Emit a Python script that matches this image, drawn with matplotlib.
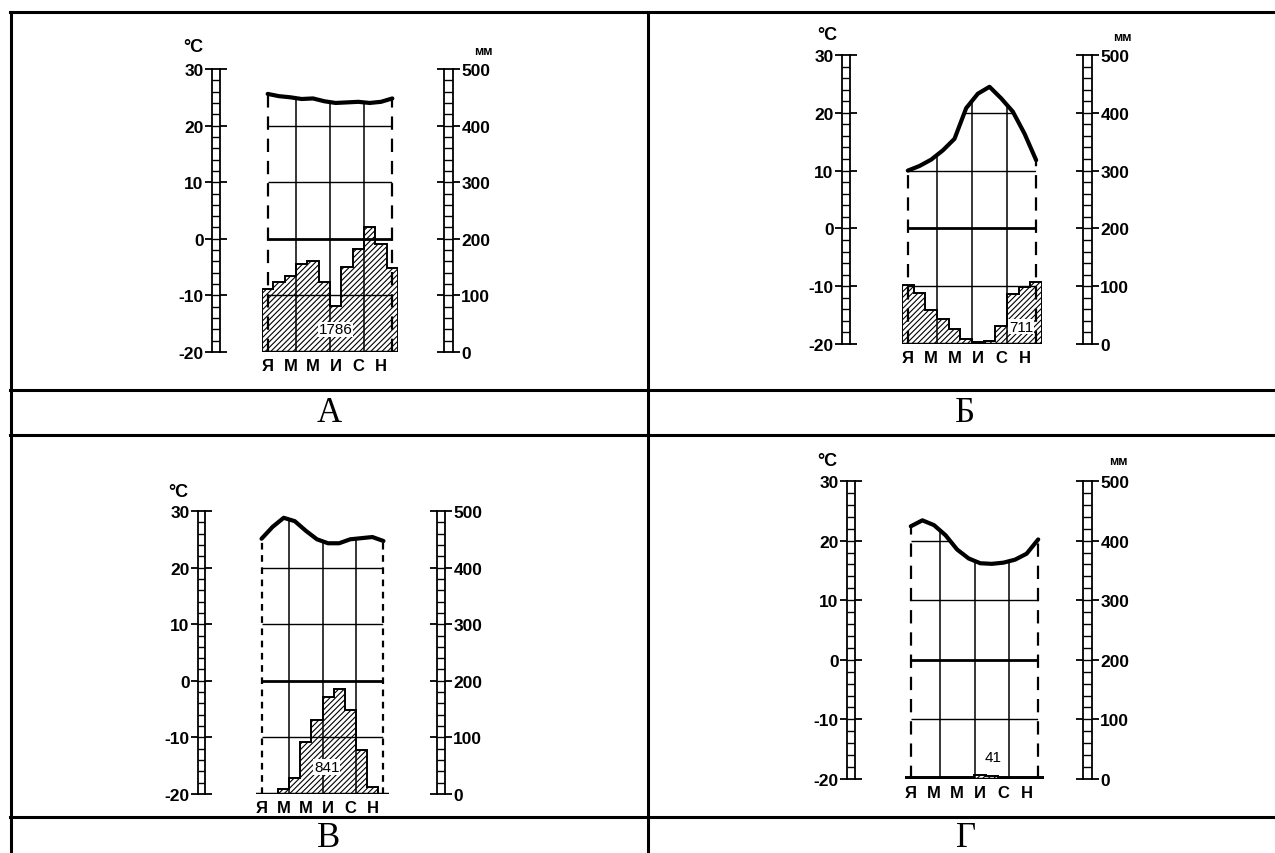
import numpy as np
import matplotlib
matplotlib.use('Agg')
import matplotlib.pyplot as plt
from matplotlib.lines import Line2D

plt.rcParams['font.family'] = ['Liberation Sans', 'DejaVu Sans']
plt.rcParams['hatch.linewidth'] = 0.8
plt.rcParams['axes.unicode_minus'] = False

# Данные
month_idx = np.arange(12)
month_labels = ['Я', 'М', 'М', 'И', 'С', 'Н']

temp_a = [25.6, 25.2, 25.0, 24.7, 24.8, 24.3, 24.0, 24.1, 24.2, 24.0, 24.2, 24.8]
prec_a = [112, 124, 135, 156, 160, 124, 82, 150, 182, 221, 191, 148]

temp_b = [10.0, 10.8, 11.9, 13.5, 15.5, 20.8, 23.3, 24.5, 22.5, 20.2, 16.4, 11.8]
prec_b = [102, 88, 58, 43, 26, 9, 4, 6, 32, 87, 98, 107]

temp_v = [25.1, 27.2, 28.8, 28.2, 26.5, 25.0, 24.3, 24.3, 25.0, 25.2, 25.4, 24.7]
prec_v = [0, 0, 9, 29, 92, 130, 171, 185, 149, 78, 12, 0]

temp_g = [22.4, 23.4, 22.6, 20.9, 18.5, 17.0, 16.2, 16.1, 16.3, 16.8, 17.8, 20.2]
prec_g = [3, 3, 3, 3, 3, 3, 6, 5, 3, 3, 3, 3]

totals = ['1786', '711', '841', '41']
panel_names = ['А', 'Б', 'В', 'Г']

temp_ticks = [-20, -10, 0, 10, 20, 30]
prec_ticks = [0, 100, 200, 300, 400, 500]

W, H = 1275, 854
fig = plt.figure(figsize=(W / 100, H / 100), dpi=100)


def px_axes(x0, y0, x1, y1):
    # оси по пиксельным координатам
    return fig.add_axes([x0 / W, 1 - y1 / H, (x1 - x0) / W, (y1 - y0) / H])


def ladder(x0, x1, y0, y1, lim, ticks, step, side):
    ax = px_axes(x0, y0, x1, y1)
    ax.set_xlim(0, 1)
    ax.set_ylim(*lim)
    for s in ax.spines.values():
        s.set_linewidth(1.3)
    ax.hlines(np.arange(lim[0] + step, lim[1], step), 0, 1, color='black', lw=1.0)
    ax.set_xticks([])
    ax.set_yticks(ticks)
    ax.tick_params(axis='y', left=True, right=True, direction='out', length=5,
                   width=1.3, labelsize=12.5, pad=1,
                   labelleft=(side == 'left'), labelright=(side == 'right'))
    for t in ax.get_yticklabels():
        t.set_fontweight('bold')
    return ax


def panel(temps, precs, total, lad_l, lad_r, y_top, y_bot, bars, total_pos,
          dash=(6, 4), c_pos=None, mm_pos=None):
    ladder(lad_l[0], lad_l[1], y_top, y_bot, (-20, 30), temp_ticks, 2, 'left')
    ladder(lad_r[0], lad_r[1], y_top, y_bot, (0, 500), prec_ticks, 20, 'right')

    ax = px_axes(bars[0], y_top, bars[1], y_bot)
    ax2 = ax.twinx()
    ax.set_zorder(2)
    ax2.set_zorder(1)
    ax.patch.set_visible(False)
    ax.set_xlim(-0.5, 11.5)
    ax.set_ylim(-20, 30)
    ax2.set_ylim(0, 500)
    ax2.axis('off')
    for s in ax.spines.values():
        s.set_visible(False)
    ax.set_yticks([])
    ax.set_xticks(month_idx[::2], month_labels)
    ax.tick_params(axis='x', length=0, pad=4, labelsize=12)
    for t in ax.get_xticklabels():
        t.set_fontweight('bold')

    # осадки
    ax2.stairs(precs, np.arange(13) - 0.5, baseline=0, fill=True,
               facecolor='white', edgecolor='black', hatch='//////', lw=1.4)
    ax.axhline(-20, color='black', lw=2.5)

    # температура
    ax.plot(month_idx, temps, color='black', lw=3.0, solid_joinstyle='round',
            solid_capstyle='round')
    area = ax.fill_between(month_idx, -20, temps, color='none', lw=0)
    clip = area.get_paths()[0]
    for lvl, lw in zip([-10, 0, 10, 20], [1.0, 2.0, 1.0, 1.0]):
        ln = ax.hlines(lvl, month_idx[0], month_idx[-1], color='black', lw=lw)
        ln.set_clip_path(clip, ax.transData)
    qx = [2.5, 5.5, 8.5]
    ax.vlines(qx, -20, np.interp(qx, month_idx, temps), color='black', lw=1.1)
    ax.vlines([month_idx[0], month_idx[-1]], -20, [temps[0], temps[-1]],
              color='black', lw=1.6, linestyles=[(0, dash)])

    ax.text(total_pos[0], total_pos[1], total, ha='center', va='center',
            fontsize=11, bbox=dict(fc='white', ec='none', pad=0.5))

    if c_pos is not None:
        fig.text(c_pos[0] / W, 1 - c_pos[1] / H, '°C', ha='center', va='center',
                 fontsize=13, fontweight='bold')
    if mm_pos is not None:
        fig.text(mm_pos[0] / W, 1 - mm_pos[1] / H, 'мм', ha='center', va='center',
                 fontsize=9, fontweight='bold')


panel(temp_a, prec_a, totals[0], (212, 220), (444, 453), 70, 353, (262, 398),
      (6.0, -16.0), c_pos=(193, 47), mm_pos=(483, 52))
panel(temp_b, prec_b, totals[1], (842, 850), (1083, 1092), 56, 345, (902, 1042),
      (9.7, -17.0), c_pos=(827, 35), mm_pos=(1122, 38))
panel(temp_v, prec_v, totals[2], (198, 205), (437, 445), 512, 795, (256, 389),
      (5.9, -15.2), dash=(3, 2.5), c_pos=(178, 493))
panel(temp_g, prec_g, totals[3], (847, 855), (1083, 1092), 482, 780, (905, 1044),
      (7.1, -16.3), c_pos=(827, 462), mm_pos=(1118, 462))

# рамка таблицы
lw_tab = 2.2
for y in [12.5, 391, 436, 818]:
    fig.add_artist(Line2D([10 / W, 1], [1 - y / H, 1 - y / H], color='black', lw=lw_tab))
for x, y0 in [(10.5, 12.5), (648, 12.5)]:
    fig.add_artist(Line2D([x / W, x / W], [1 - y0 / H, 0], color='black', lw=lw_tab))

for name, (cx, cy) in zip(panel_names, [(329, 414), (965, 414), (329, 839), (966, 839)]):
    fig.text(cx / W, 1 - cy / H, name, ha='center', va='center', fontsize=25,
             family='Liberation Serif')

fig.savefig('out.png', dpi=100, facecolor='white')
